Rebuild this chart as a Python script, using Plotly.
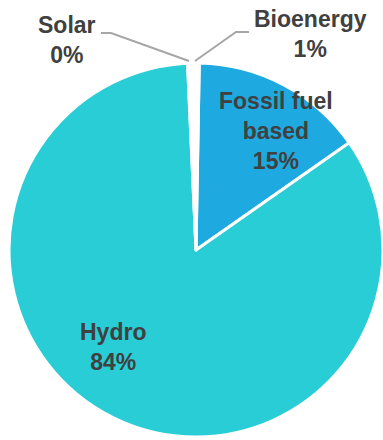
import plotly.graph_objects as go

W, H = 383, 440

labels = ["Fossil fuel based", "Hydro", "Solar", "Bioenergy"]
values = [15.0, 84.0, 0.3, 0.7]
pct_labels = ["15%", "84%", "0%", "1%"]
colors = ["#1EA9E1", "#28CDD6", "#FFFFFF", "#FFFFFF"]

fig = go.Figure(go.Pie(
    labels=labels,
    values=values,
    sort=False,
    direction="clockwise",
    rotation=1,
    textinfo="none",
    hoverinfo="label+percent",
    marker=dict(colors=colors, line=dict(color="#FFFFFF", width=3)),
    domain=dict(x=[9 / W, 1.0], y=[3 / H, 377 / H]),
    showlegend=False,
))

def px(x):
    return x / W

def py(y):
    return 1 - y / H

font = dict(family="Arial, 'Liberation Sans', sans-serif", size=23, color="#404040")

ann_pos = {
    "Fossil fuel based": (276, 131, "<b>Fossil fuel<br>based<br>%s</b>"),
    "Hydro": (113, 347, "<b>Hydro<br>%s</b>"),
    "Solar": (67, 40, "<b>Solar<br>%s</b>"),
    "Bioenergy": (310, 34, "<b>Bioenergy<br>%s</b>"),
}
annotations = []
for lab, pct in zip(labels, pct_labels):
    x, y, tpl = ann_pos[lab]
    annotations.append(dict(
        x=px(x), y=py(y), xref="paper", yref="paper",
        text=tpl % pct, showarrow=False, font=font,
        xanchor="center", yanchor="middle", align="center",
    ))

line_style = dict(color="#A6A6A6", width=2)
shapes = [
    dict(type="path", xref="paper", yref="paper",
         path="M %f,%f L %f,%f L %f,%f" % (px(101), py(33), px(111), py(33), px(189), py(61)),
         line=line_style),
    dict(type="path", xref="paper", yref="paper",
         path="M %f,%f L %f,%f L %f,%f" % (px(195), py(61), px(236), py(32), px(249), py(32)),
         line=line_style),
]

fig.update_layout(
    width=W, height=H,
    margin=dict(l=0, r=0, t=0, b=0),
    paper_bgcolor="white", plot_bgcolor="white",
    annotations=annotations, shapes=shapes,
)

fig.write_html("out.html")
